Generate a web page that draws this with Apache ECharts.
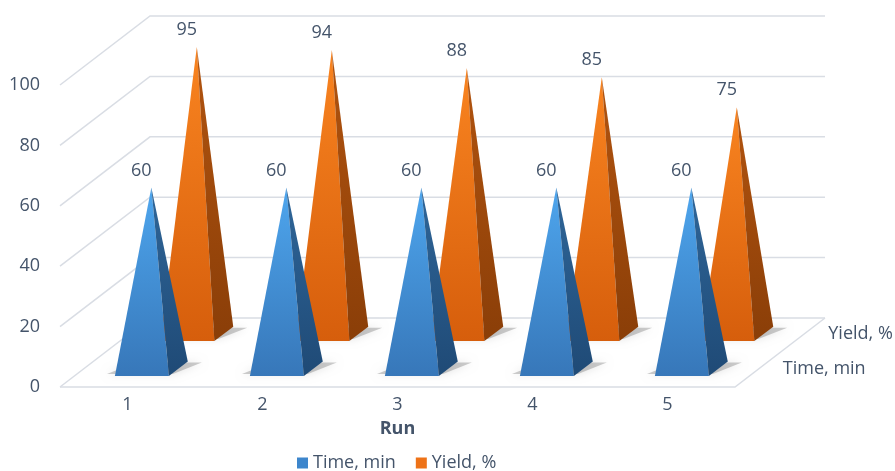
<!DOCTYPE html>
<html>
<head>
<meta charset="utf-8">
<script src="https://cdn.jsdelivr.net/npm/echarts@6/dist/echarts.min.js"></script>
<style>
  html, body { margin: 0; padding: 0; background: #ffffff; }
  #chart { width: 895px; height: 471px; }
</style>
</head>
<body>
<div id="chart"></div>
<script>
// Run data
const runs = ['1', '2', '3', '4', '5'];
const timeMin = [60, 60, 60, 60, 60];
const yieldPct = [95, 94, 88, 85, 75];
const seriesNames = ['Time, min', 'Yield, %'];
const valueTicks = [0, 20, 40, 60, 80, 100];

// Oblique projection: screen offset of the full floor depth
const DEPTH = [90, -69];
const ROW_DEPTH = [0.265, 0.77];   // depth centre of each series row (0 = front, 1 = back)
const HALF_DEPTH = 0.105;
const HALF_WIDTH = 0.2;            // fraction of category band
const FONT = '"Open Sans", "DejaVu Sans", sans-serif';
const FONT_SIZE = 18;
const TEXT = '#44546a';
const GRID_LINE = '#d9dde4';

const palettes = [
  { legend: '#3d86cc', front: ['#4ea6ee', '#3777b9'], side: ['#2f6699', '#1f4a76'] },
  { legend: '#ee7217', front: ['#f98420', '#d65e0c'], side: ['#b2540f', '#8a3e08'] }
];

function grad(c) {
  return new echarts.graphic.LinearGradient(0, 0, 0, 1, [
    { offset: 0, color: c[0] }, { offset: 1, color: c[1] }
  ]);
}

function pyramidRenderer(row) {
  const dc = ROW_DEPTH[row];
  const pal = palettes[row];
  return function (params, api) {
    const cat = api.value(0);
    const val = api.value(1);
    const base = api.coord([cat, 0]);
    const top = api.coord([cat, val]);
    const hw = api.size([1, 0])[0] * HALF_WIDTH;
    const d0 = dc - HALF_DEPTH, d1 = dc + HALF_DEPTH;
    const pt = (dx, d, y) => [base[0] + dx + d * DEPTH[0], y + d * DEPTH[1]];
    const FL = pt(-hw, d0, base[1]);
    const FR = pt(hw, d0, base[1]);
    const BR = pt(hw, d1, base[1]);
    const BL = pt(-hw, d1, base[1]);
    const apex = pt(0, dc, top[1]);
    // soft contact shadow on the floor
    const shadowPts = [
      [FL[0] - 8, FL[1] - 2], [FR[0] + 4, FR[1] - 2],
      [BR[0] + 14, BR[1] + 1], [BL[0] + 2, BL[1] + 1]
    ];
    return {
      type: 'group',
      children: [
        {
          type: 'polygon',
          shape: { points: shadowPts },
          style: { fill: 'rgba(30,30,30,0.22)', shadowBlur: 9, shadowColor: 'rgba(0,0,0,0.5)' },
          silent: true
        },
        {
          type: 'polygon',
          shape: { points: [FL, FR, apex] },
          style: { fill: grad(pal.front) }
        },
        {
          type: 'polygon',
          shape: { points: [FR, BR, apex] },
          style: { fill: grad(pal.side) }
        },
        {
          type: 'text',
          style: {
            text: String(val),
            x: apex[0] - 10,
            y: apex[1] - 17,
            align: 'center',
            verticalAlign: 'middle',
            fill: TEXT,
            fontSize: FONT_SIZE,
            fontFamily: FONT
          }
        }
      ]
    };
  };
}

// Walls, floor and depth-axis labels
function frameRenderer(params, api) {
  const cs = params.coordSys;
  const v = api.value(1);
  const y = api.coord([0, v])[1];
  const x0 = cs.x, x1 = cs.x + cs.width;
  const children = [{
    type: 'polyline',
    shape: { points: [[x0, y], [x0 + DEPTH[0], y + DEPTH[1]], [x1 + DEPTH[0], y + DEPTH[1]]] },
    style: { stroke: GRID_LINE, lineWidth: 1.5, fill: null }
  }];
  if (v === 0) {
    children.push({
      type: 'polyline',
      shape: { points: [[x0, y], [x1, y], [x1 + DEPTH[0], y + DEPTH[1]]] },
      style: { stroke: GRID_LINE, lineWidth: 1.5, fill: null }
    });
    seriesNames.forEach((name, i) => {
      children.push({
        type: 'text',
        style: {
          text: name,
          x: x1 + ROW_DEPTH[i] * DEPTH[0] + 24,
          y: y + ROW_DEPTH[i] * DEPTH[1],
          align: 'left',
          verticalAlign: 'middle',
          fill: TEXT,
          fontSize: FONT_SIZE,
          fontFamily: FONT
        }
      });
    });
  }
  return { type: 'group', children: children };
}

const chart = echarts.init(document.getElementById('chart'), null, { renderer: 'canvas' });

chart.setOption({
  animation: false,
  backgroundColor: '#ffffff',
  grid: { left: 60, right: 160, top: 85, bottom: 84 },
  legend: {
    left: 292,
    top: 449,
    itemWidth: 11,
    itemHeight: 11,
    itemGap: 20,
    data: [
      { name: seriesNames[0], icon: 'rect' },
      { name: seriesNames[1], icon: 'rect' }
    ],
    textStyle: { color: TEXT, fontSize: FONT_SIZE, fontFamily: FONT }
  },
  xAxis: {
    type: 'category',
    data: runs,
    axisLine: { show: false },
    axisTick: { show: false },
    splitLine: { show: false },
    axisLabel: { margin: 9, color: TEXT, fontSize: FONT_SIZE, fontFamily: FONT },
    name: 'Run',
    nameLocation: 'middle',
    nameGap: 33,
    nameTextStyle: { color: TEXT, fontSize: FONT_SIZE, fontWeight: 'bold', fontFamily: FONT }
  },
  yAxis: {
    type: 'value',
    min: 0,
    max: 100,
    interval: 20,
    axisLine: { show: false },
    axisTick: { show: false },
    splitLine: { show: false },
    axisLabel: { margin: 20, color: TEXT, fontSize: FONT_SIZE, fontFamily: FONT }
  },
  series: [
    {
      type: 'custom',
      name: 'frame',
      silent: true,
      z: 1,
      renderItem: frameRenderer,
      data: valueTicks.map(v => [0, v])
    },
    {
      type: 'custom',
      name: seriesNames[0],
      z: 4,
      itemStyle: { color: palettes[0].legend },
      renderItem: pyramidRenderer(0),
      data: timeMin.map((v, i) => [i, v])
    },
    {
      type: 'custom',
      name: seriesNames[1],
      z: 3,
      itemStyle: { color: palettes[1].legend },
      renderItem: pyramidRenderer(1),
      data: yieldPct.map((v, i) => [i, v])
    }
  ]
});
</script>
</body>
</html>
